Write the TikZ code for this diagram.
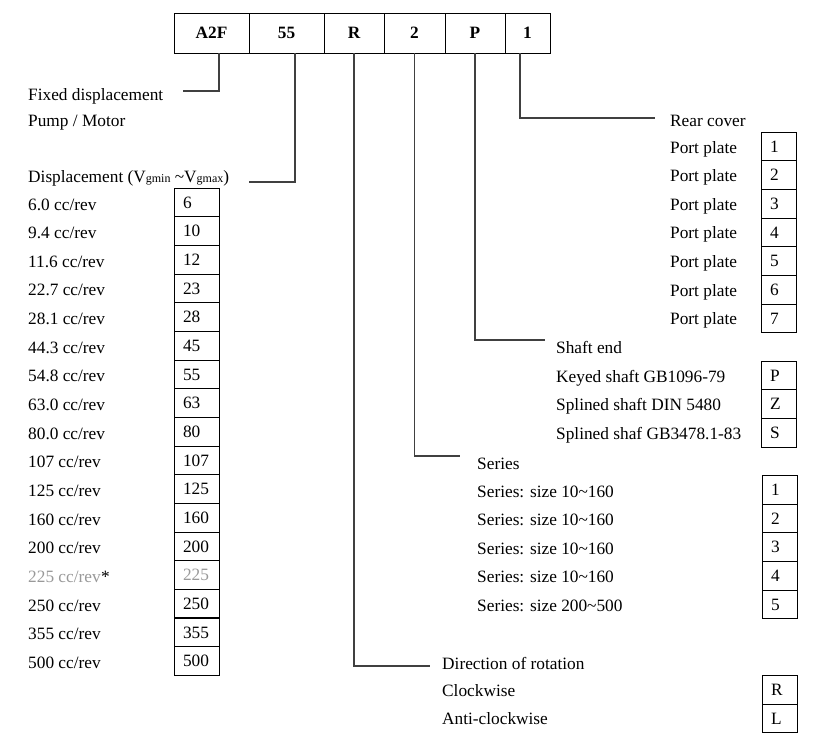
\documentclass[tikz,border=0pt]{standalone}
\usepackage{fontspec}
\setmainfont{Liberation Serif}
\usetikzlibrary{positioning}
\tikzset{codebox/.style = {draw, line width=1pt, minimum height=40pt,
                           inner sep=0pt, outer sep=0pt,
                           font=\fontsize{17.3}{20}\selectfont\bfseries}}
\tikzset{item/.style = {anchor=base west, inner sep=0pt}}
\tikzset{cell/.style = {draw, line width=0.9pt, minimum height=28.6pt,
                        inner xsep=9pt, inner ysep=0pt, outer sep=0pt,
                        text height=11.5pt, text depth=0pt,
                        align=left, anchor=west}}
\tikzset{leader/.style = {draw=black!75, line width=1.3pt}}
\definecolor{mgray}{rgb}{0.6, 0.6, 0.6}
\newcommand{\vsub}[1]{{\fontsize{12}{12}\selectfont #1}}

\begin{document}
\begin{tikzpicture}[x=1pt, y=-1pt, font=\fontsize{17.3}{20}\selectfont]
    \useasboundingbox (0, 0) rectangle (824, 734);

    % type code
    \node [codebox, minimum width=75pt] (hA) at (211.5, 33) {A2F};
    \node [codebox, minimum width=75pt, right=0pt of hA] (hB) {55};
    \node [codebox, minimum width=60pt, right=0pt of hB] (hC) {R};
    \node [codebox, minimum width=61pt, right=0pt of hC] (hD) {2};
    \node [codebox, minimum width=60pt, right=0pt of hD] (hE) {P};
    \node [codebox, minimum width=45pt, right=0pt of hE] (hF) {1};

    % left column
    \node [item] (fix) at (28, 100) {Fixed displacement};
    \node [item] (pump) at (28, 126) {Pump / Motor};
    \node [item] (disp) at (28, 182) {Displacement (V\vsub{gmin} \textasciitilde V\vsub{gmax})};

    \foreach \lab/\num/\col [count=\i from 0] in
        {6.0/6/black, 9.4/10/black, 11.6/12/black, 22.7/23/black, 28.1/28/black,
         44.3/45/black, 54.8/55/black, 63.0/63/black, 80.0/80/black, 107/107/black,
         125/125/black, 160/160/black, 200/200/black, 225/225/mgray, 250/250/black,
         355/355/black, 500/500/black}
    {
        \node [item, text=\col] (d\i) at (28, 210 + \i*28.65) {\lab{} cc/rev};
        \node [cell, text width=27pt, text=\col] (c\i) at (174, 202.5 + \i*28.65) {\num};
    }
    \node [item] (star) at (d13.base east) {*};

    % rear cover
    \node [item] (rear) at (670, 126) {Rear cover};
    \foreach \i in {1, ..., 7}
    {
        \node [item] (p\i) at (670, 153 + \i*28.65 - 28.65) {Port plate};
        \node [cell, text width=17pt] (pc\i) at (761, 146.5 + \i*28.65 - 28.65) {\i};
    }

    % shaft end
    \node [item] (shaft) at (556, 353) {Shaft end};
    \foreach \lab/\num [count=\i from 0] in
        {Keyed shaft GB1096-79/P, Splined shaft DIN 5480/Z, Splined shaf GB3478.1-83/S}
    {
        \node [item] (s\i) at (556, 382 + \i*28.65) {\lab};
        \node [cell, text width=17pt] (sc\i) at (761, 375.5 + \i*28.65) {\num};
    }

    % series
    \node [item] (series) at (477, 469) {Series};
    \foreach \lab/\num [count=\i from 0] in
        {10\textasciitilde160/1, 10\textasciitilde160/2, 10\textasciitilde160/3,
         10\textasciitilde160/4, 200\textasciitilde500/5}
    {
        \node [item] (r\i) at (477, 497 + \i*28.6) {Series: size \lab};
        \node [cell, text width=17pt] (rc\i) at (762, 490 + \i*28.6) {\num};
    }

    % direction of rotation
    \node [item] (dir) at (442, 669) {Direction of rotation};
    \node [item] (cw) at (442, 696) {Clockwise};
    \node [item] (acw) at (442, 724) {Anti-clockwise};
    \node [cell, text width=17pt] (cwc) at (762, 690) {R};
    \node [cell, text width=17pt] (acwc) at (762, 718.5) {L};

    % leaders
    \coordinate (eA) at (183, 91);
    \coordinate (eB) at (249, 182);
    \coordinate (eC) at (430, 666);
    \coordinate (eD) at (460, 456);
    \coordinate (eE) at (545, 340);
    \coordinate (eF) at (655, 118);
    \draw [leader] ([xshift=7.5pt]hA.south) |- (eA);
    \draw [leader] ([xshift=8.5pt]hB.south) |- (eB);
    \draw [leader] (hC.south) |- (eC);
    \draw [leader] (hD.south) |- (eD);
    \draw [leader] (hE.south) |- (eE);
    \draw [leader] ([xshift=-7.5pt]hF.south) |- (eF);
\end{tikzpicture}
\end{document}
